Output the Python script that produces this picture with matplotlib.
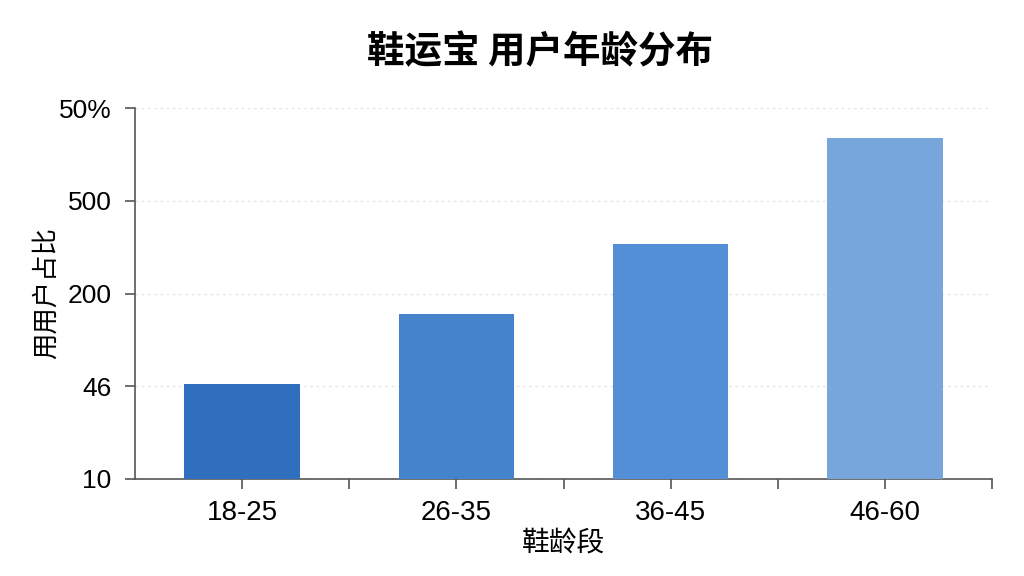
import matplotlib.pyplot as plt
import numpy as np

# Data
age_groups = ["18-25", "26-35", "36-45", "46-60"]
# bar heights measured in tick steps (the axis labels are evenly spaced)
heights = [1.02, 1.78, 2.53, 3.68]
ytick_labels = ["10", "46", "200", "500", "50%"]
bar_colors = ["#2f6fbe", "#4583cd", "#538fd6", "#76a6dc"]

plt.rcParams["font.family"] = ["Liberation Sans", "Noto Sans CJK SC", "DejaVu Sans"]

fig = plt.figure(figsize=(10.24, 5.76), dpi=100)
ax = fig.add_axes([135 / 1024, 1 - 479 / 576, (992 - 135) / 1024, (479 - 108) / 576])

x = np.arange(len(age_groups))
ax.bar(x, heights, width=0.54, color=bar_colors, zorder=3)

ax.set_xlim(-0.5, len(age_groups) - 0.5)
ax.set_ylim(0, len(ytick_labels) - 1)
ax.set_xticks(x)
ax.set_xticklabels(age_groups, fontsize=20)
ax.set_xticks(x + 0.5, minor=True)
ax.set_yticks(range(len(ytick_labels)))
ax.set_yticklabels(ytick_labels, fontsize=19)

ax.tick_params(axis="both", which="both", direction="out", length=7, width=1.2, color="#555555")
ax.tick_params(axis="x", pad=8)
ax.tick_params(axis="y", pad=10)

for side in ["top", "right"]:
    ax.spines[side].set_visible(False)
for side in ["left", "bottom"]:
    ax.spines[side].set_color("#555555")
    ax.spines[side].set_linewidth(1.2)

ax.grid(axis="y", linestyle=(0, (2, 3)), color="#e2e2e2", linewidth=0.9, zorder=0)

ax.set_xlabel("鞋龄段", fontsize=20, labelpad=4)
ax.set_ylabel("用用户占比", fontsize=19, labelpad=0)

fig.text(540 / 1024, 1 - 52 / 576, "鞋运宝 用户年龄分布", fontsize=27, fontweight="semibold",
         family=["Noto Sans CJK SC", "DejaVu Sans"], ha="center", va="center")

fig.savefig("out.png", dpi=100, facecolor="white")
